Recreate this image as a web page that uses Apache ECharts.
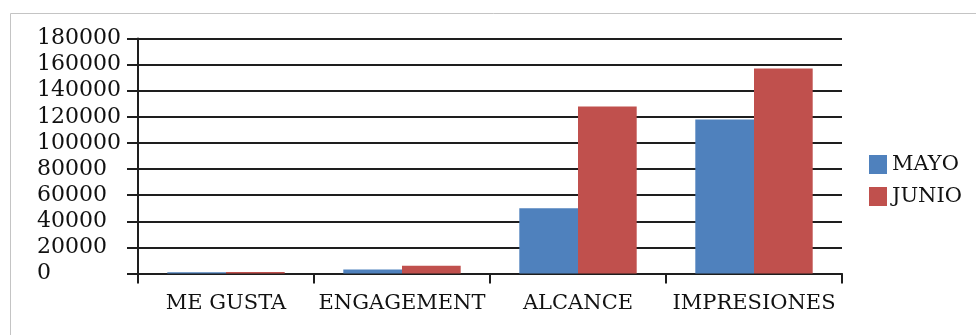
<!DOCTYPE html>
<html>
<head>
<meta charset="utf-8">
<script src="https://cdn.jsdelivr.net/npm/echarts@6/dist/echarts.min.js"></script>
<style>
  html, body { margin: 0; padding: 0; background: #fff; }
  #chart { width: 976px; height: 335px; }
</style>
</head>
<body>
<div id="chart"></div>
<script>
// Social media metrics, May vs June
const categories = ['ME GUSTA', 'ENGAGEMENT', 'ALCANCE', 'IMPRESIONES'];
const mayo = [900, 3000, 50000, 118000];
const junio = [1200, 6000, 128000, 157000];
const seriesNames = ['MAYO', 'JUNIO'];
const yTicks = { min: 0, max: 180000, interval: 20000 };

const FONT = 'DejaVu Serif';
const INK = '#1e1e1e';
const TEXT = '#111';

const chart = echarts.init(document.getElementById('chart'), null, { renderer: 'canvas' });

chart.setOption({
  animation: false,
  backgroundColor: '#fff',
  graphic: [{
    // chart-area frame
    type: 'rect',
    shape: { x: 10.5, y: 13.5, width: 1000, height: 400 },
    style: { fill: 'none', stroke: '#c4c4c4', lineWidth: 1 },
    silent: true
  }],
  legend: {
    orient: 'vertical',
    left: 869,
    top: 154,
    padding: 0,
    itemWidth: 18,
    itemHeight: 19,
    itemGap: 11,
    icon: 'rect',
    textStyle: { fontFamily: FONT, fontSize: 21, color: TEXT },
    data: seriesNames
  },
  grid: { left: 138, right: 134, top: 38.5, bottom: 61.5, containLabel: false },
  xAxis: {
    type: 'category',
    data: categories,
    axisLine: { lineStyle: { color: INK, width: 2 } },
    axisTick: { show: true, length: 10, alignWithLabel: false, lineStyle: { color: INK, width: 2 } },
    axisLabel: { interval: 0, fontFamily: FONT, fontSize: 21, color: TEXT, margin: 20 },
    splitLine: { show: false }
  },
  yAxis: {
    type: 'value',
    min: yTicks.min,
    max: yTicks.max,
    interval: yTicks.interval,
    axisLine: { show: true, lineStyle: { color: INK, width: 2 } },
    axisTick: { show: true, length: 11, lineStyle: { color: INK, width: 2 } },
    axisLabel: {
      fontFamily: FONT, fontSize: 22, color: TEXT,
      align: 'left', margin: 101,
      formatter: v => String(v)
    },
    splitLine: { show: true, lineStyle: { color: INK, width: 2 } }
  },
  series: [
    {
      name: seriesNames[0], type: 'bar', data: mayo,
      itemStyle: { color: '#4F81BD' },
      barGap: '0%', barCategoryGap: '33.3%'
    },
    {
      name: seriesNames[1], type: 'bar', data: junio,
      itemStyle: { color: '#C0504D' },
      barGap: '0%', barCategoryGap: '33.3%'
    }
  ]
});
</script>
</body>
</html>
